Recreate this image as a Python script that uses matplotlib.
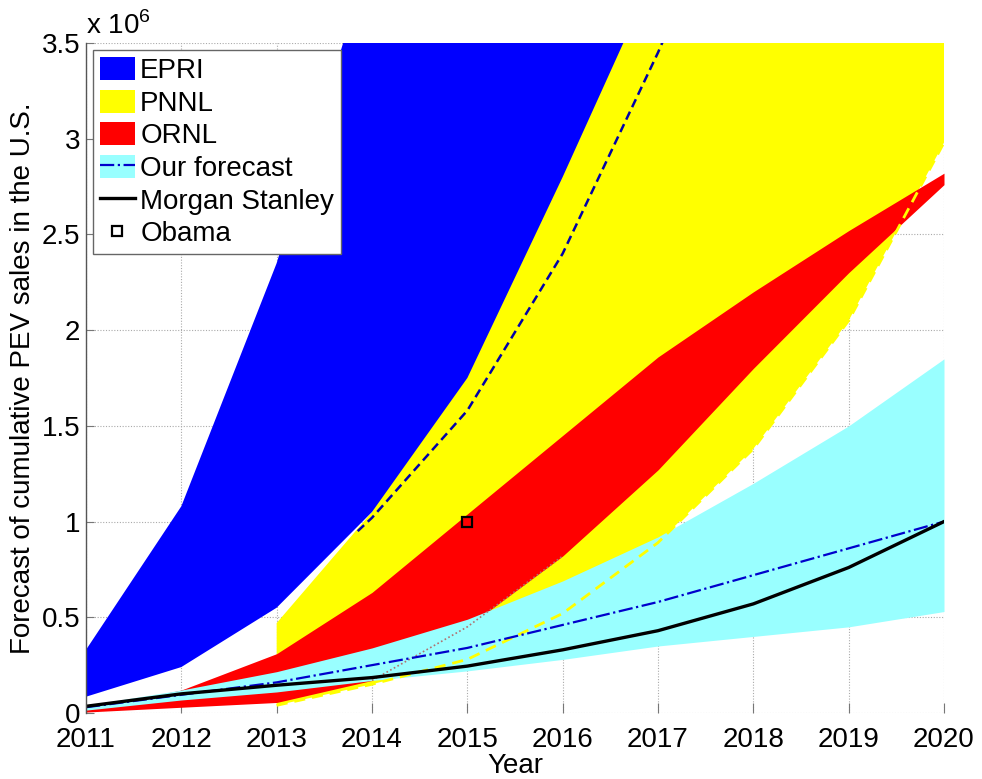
import matplotlib
matplotlib.use('Agg')
import matplotlib.pyplot as plt
from matplotlib.patches import Patch
from matplotlib.lines import Line2D

plt.rcParams['font.family'] = ['Liberation Sans', 'DejaVu Sans']
plt.rcParams['mathtext.fontset'] = 'custom'
plt.rcParams['mathtext.rm'] = 'Liberation Sans'

# values in millions of vehicles
years = [2011, 2012, 2013, 2014, 2015, 2016, 2017, 2018, 2019, 2020]

epri_low = [0.085, 0.24, 0.55, 1.05, 1.75, 2.8, 3.9, 5.3, 7.0, 9.0]
epri_high = [0.33, 1.08, 2.35, 4.0, 6.0, 8.0, 10.0, 12.0, 14.0, 16.0]

pnnl_years = [2013, 2014, 2015, 2016, 2017, 2018, 2019, 2020]
pnnl_low = [0.04, 0.15, 0.28, 0.52, 0.89, 1.38, 2.05, 2.98]
pnnl_high = [0.47, 1.05, 2.0, 3.3, 4.8, 6.5, 8.5, 10.5]

ornl_low = [0.005, 0.03, 0.055, 0.17, 0.45, 0.82, 1.27, 1.8, 2.3, 2.76]
ornl_high = [0.02, 0.12, 0.31, 0.63, 1.04, 1.45, 1.86, 2.2, 2.52, 2.82]

ours_low = [0.015, 0.068, 0.11, 0.17, 0.22, 0.28, 0.35, 0.40, 0.45, 0.53]
ours_high = [0.04, 0.12, 0.216, 0.34, 0.49, 0.69, 0.92, 1.2, 1.5, 1.85]
ours_mid = [0.03, 0.095, 0.16, 0.25, 0.34, 0.46, 0.58, 0.72, 0.86, 1.0]

morgan = [0.035, 0.10, 0.145, 0.185, 0.245, 0.33, 0.43, 0.57, 0.76, 1.0]

dash_years = [2013.85, 2014, 2015, 2016, 2017, 2018]
dash_vals = [0.95, 1.02, 1.58, 2.4, 3.45, 4.6]

obama_year = [2015]
obama_val = [1.0]

yticks = [0, 0.5, 1, 1.5, 2, 2.5, 3, 3.5]
ytick_labels = ['0', '0.5', '1', '1.5', '2', '2.5', '3', '3.5']

fig = plt.figure(figsize=(9.82, 7.79), dpi=100)
ax = fig.add_axes([86 / 982, 66 / 779, 858 / 982, 670 / 779])

blue = '#0000ff'
yellow = '#ffff00'
red = '#ff0000'
cyan = '#99ffff'

ax.fill_between(pnnl_years, pnnl_low, pnnl_high, color=yellow, lw=0, zorder=2)
ax.fill_between(years, epri_low, epri_high, color=blue, lw=0, zorder=3)
ax.fill_between(years, ornl_low, ornl_high, color=red, lw=0, zorder=4)
ax.fill_between(years, ours_low, ours_high, color=cyan, lw=0, zorder=5)

# edge of ORNL band showing through the forecast band
ax.plot(years[3:6], ornl_low[3:6], color='#b07070', lw=1.2,
        linestyle=(0, (1, 1.5)), zorder=6)
ax.plot(pnnl_years, pnnl_low, color=yellow, lw=2, linestyle=(0, (4, 2.5)), zorder=6)
ax.plot(dash_years, dash_vals, color='#0000aa', lw=1.8, linestyle=(0, (3.5, 2)), zorder=6)

ax.plot(years, ours_mid, color='#0000cc', lw=1.6, linestyle='-.', zorder=7)
ax.plot(years, morgan, color='black', lw=2.4, zorder=8)
ax.plot(obama_year, obama_val, 's', mfc='none', mec='black', mew=1.6, ms=7, zorder=9)

ax.set_xlim(2011, 2020)
ax.set_ylim(0, 3.5)
ax.set_xticks(years)
ax.set_yticks(yticks)
ax.set_yticklabels(ytick_labels)

ax.set_axisbelow(True)
ax.grid(True, color='#aaaaaa', linestyle=(0, (1, 1.5)), lw=0.8)
for side in ['top', 'right', 'bottom']:
    ax.spines[side].set_visible(False)
ax.spines['left'].set_color('#555555')
ax.spines['left'].set_linewidth(1.0)
ax.spines['left'].set_zorder(10)

ax.tick_params(axis='x', direction='in', length=7, color='#777777', labelsize=20, pad=10)
ax.tick_params(axis='y', direction='in', length=6, color='#777777', labelsize=20, pad=4)

ax.set_xlabel('Year', fontsize=20, labelpad=0)
ax.set_ylabel('Forecast of cumulative PEV sales in the U.S.', fontsize=20, labelpad=4)
ax.text(0.0, 1.004, r'x 10$^{6}$', transform=ax.transAxes, fontsize=20,
        ha='left', va='bottom')

handles = [
    Patch(facecolor=blue, edgecolor='none'),
    Patch(facecolor=yellow, edgecolor='none'),
    Patch(facecolor=red, edgecolor='none'),
    (Patch(facecolor=cyan, edgecolor='none'),
     Line2D([], [], color='#0000cc', lw=1.6, linestyle='-.')),
    Line2D([], [], color='black', lw=2.4),
    Line2D([], [], marker='s', mfc='none', mec='black', mew=1.6, ms=7, lw=0),
]
labels = ['EPRI', 'PNNL', 'ORNL', 'Our forecast', 'Morgan Stanley', 'Obama']
leg = ax.legend(handles, labels, loc='upper left', fontsize=20, fancybox=False,
                framealpha=1, edgecolor='#666666', borderaxespad=0.25,
                handlelength=1.25, handleheight=0.9, handletextpad=0.2,
                labelspacing=0.2, borderpad=0.25)
leg.get_frame().set_linewidth(1.0)
leg.set_zorder(20)

fig.savefig('out.png', dpi=100)
